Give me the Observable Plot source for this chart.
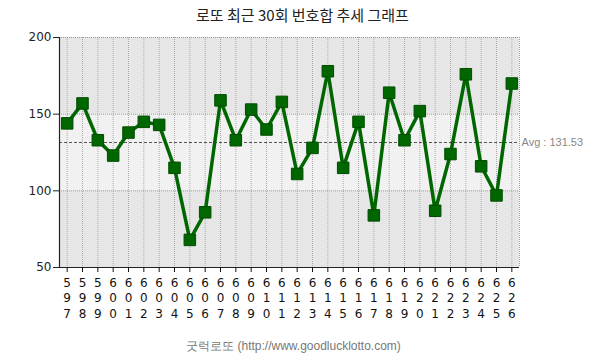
<!DOCTYPE html>
<html><head><meta charset="utf-8">
<script src="https://cdn.jsdelivr.net/npm/d3@7"></script>
<script src="https://cdn.jsdelivr.net/npm/@observablehq/plot@0.6"></script>
<style>
body{margin:0;background:#fff;width:605px;height:359px;overflow:hidden;}
#title{height:28px;line-height:30px;text-align:center;font-family:"Noto Sans CJK KR",sans-serif;font-size:15px;color:#222;}
#cap{height:31px;line-height:36px;text-align:center;padding-right:18px;font-family:"Liberation Sans",sans-serif;font-size:12px;color:#777;}
#chart svg{display:block;}
</style></head>
<body>
<div id="title">로또 최근 30회 번호합 추세 그래프</div>
<div id="chart"></div>
<div id="cap">굿럭로또 (http://www.goodlucklotto.com)</div>
<script>
const draws = [597,598,599,600,601,602,603,604,605,606,607,608,609,610,611,612,613,614,615,616,617,618,619,620,621,622,623,624,625,626];
const sums  = [144,157,133,123,138,145,143,115,68,86,159,133,153,140,158,111,128,178,115,145,84,164,133,152,87,124,176,116,97,170];
const avg = 131.53;
const yTicks = [50,100,150,200];
const bandEdges = [50,100,150,200];
const bandFills = ["#e6e6e6","#f1f1f1","#e6e6e6"];

const data = draws.map((d,i)=>({draw:d,sum:sums[i]}));
const bands = bandFills.map((f,i)=>({y1:bandEdges[i],y2:bandEdges[i+1],fill:f}));
const x0 = draws[0]-0.5, x1 = draws[draws.length-1]+0.5;

const chart = Plot.plot({
  width:605, height:300,
  marginLeft:59, marginRight:86, marginTop:9, marginBottom:61,
  style:{fontFamily:"DejaVu Sans, sans-serif", fontSize:"11px", background:"transparent"},
  x:{type:"linear", domain:[x0,x1]},
  y:{domain:[50,200]},
  marks:[
    Plot.rect(bands,{x1:x0,x2:x1,y1:"y1",y2:"y2",fill:"fill"}),
    Plot.ruleX(draws,{stroke:"#aaa",strokeDasharray:"1,1",strokeWidth:1}),
    Plot.ruleY([100,150,200],{stroke:"#999",strokeDasharray:"1,1",strokeWidth:1}),
    Plot.ruleX([x1],{stroke:"#999",strokeDasharray:"1,1"}),
    Plot.ruleY([avg],{stroke:"#555",strokeDasharray:"3,2"}),
    Plot.text([avg],{x:x1,y:d=>d,text:d=>"Avg : "+d.toFixed(2),textAnchor:"start",dx:2,fill:"#888",fontSize:11,fontFamily:"Liberation Sans, sans-serif"}),
    Plot.ruleX([x0],{stroke:"#222",strokeWidth:1.2}),
    Plot.ruleY([50],{stroke:"#222",strokeWidth:1.2}),
    Plot.axisY({ticks:yTicks,tickSize:6,tickPadding:2,label:null,color:"#222",fontSize:12}),
    Plot.axisX({ticks:draws,tickSize:5,tickPadding:3,label:null,color:"#111",fontSize:12,lineHeight:1.3,
      tickFormat:d=>String(d).split("").join("\n")}),
    Plot.line(data,{x:"draw",y:"sum",stroke:"#006600",strokeWidth:3.5}),
    Plot.dot(data,{x:"draw",y:"sum",symbol:"square",r:6.5,fill:"#006600",stroke:"#004c00",strokeWidth:1})
  ]
});
document.getElementById("chart").appendChild(chart);
</script>
</body></html>
